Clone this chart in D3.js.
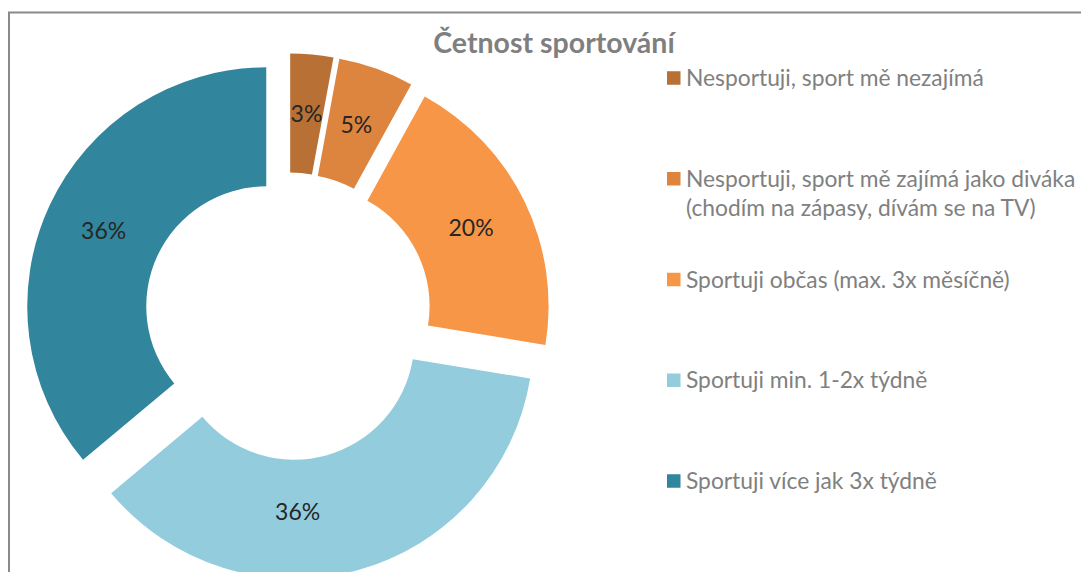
<!DOCTYPE html>
<html>
<head>
<meta charset="utf-8">
<script src="https://cdn.jsdelivr.net/npm/d3@7"></script>
<style>
  html, body { margin: 0; padding: 0; background: #ffffff; }
  svg { display: block; }
</style>
</head>
<body>
<svg id="chart" width="1081" height="572"></svg>
<script>
// ---------------- data ----------------
const title = "Četnost sportování";
const categories = [
  "Nesportuji, sport mě nezajímá",
  "Nesportuji, sport mě zajímá jako diváka (chodím na zápasy, dívám se na TV)",
  "Sportuji občas (max. 3x měsíčně)",
  "Sportuji min. 1-2x týdně",
  "Sportuji více jak 3x týdně"
];
const legendLines = [
  ["Nesportuji, sport mě nezajímá"],
  ["Nesportuji, sport mě zajímá jako diváka", "(chodím na zápasy, dívám se na TV)"],
  ["Sportuji občas (max. 3x měsíčně)"],
  ["Sportuji min. 1-2x týdně"],
  ["Sportuji více jak 3x týdně"]
];
const values = [2.9, 5.1, 19.6, 36.3, 36.1];
const colors = ["#B97034", "#DD843E", "#F79646", "#93CDDD", "#31859C"];

// ---------------- layout ----------------
const W = 1081, H = 572;
const cx = 288, cy = 316.5;
const outerR = 239, innerR = 120;
const explode = 24;
const labelAngleNudge = [0, 0, 0, 14.2, 0];   // degrees, label placement tweak
const labelRadiusNudge = [0, 0, 0, -7, 0];    // px, label placement tweak
const fontFamily = "Lato, 'Open Sans', 'DejaVu Sans', sans-serif";

const svg = d3.select("#chart");

// frame (chart border, partially outside the view)
svg.append("rect")
  .attr("x", 9).attr("y", 12.5)
  .attr("width", W + 50).attr("height", H + 50)
  .attr("fill", "none")
  .attr("stroke", "#8a8a8a")
  .attr("stroke-width", 2);

const total = d3.sum(values);
const pie = d3.pie().sort(null).value(d => d);
const arcs = pie(values);
const arc = d3.arc().innerRadius(innerR).outerRadius(outerR);
const fmt = v => Math.round(v / total * 100) + "%";

const slices = svg.append("g").attr("class", "slices")
  .selectAll("g")
  .data(arcs)
  .join("g")
  .attr("transform", d => {
    const mid = (d.startAngle + d.endAngle) / 2;
    return `translate(${cx + explode * Math.sin(mid)},${cy - explode * Math.cos(mid)})`;
  });

slices.append("clipPath")
  .attr("id", (d, i) => "clip" + i)
  .append("path")
  .attr("d", arc);

slices.append("path")
  .attr("d", arc)
  .attr("fill", (d, i) => colors[i]);

const labelPos = (d, i) => {
  const mid = (d.startAngle + d.endAngle) / 2 + labelAngleNudge[i] * Math.PI / 180;
  const rr = (innerR + outerR) / 2 + labelRadiusNudge[i];
  return [rr * Math.sin(mid), -rr * Math.cos(mid)];
};

slices.append("g")
  .attr("clip-path", (d, i) => `url(#clip${i})`)
  .append("text")
  .attr("x", (d, i) => labelPos(d, i)[0])
  .attr("y", (d, i) => labelPos(d, i)[1])
  .attr("text-anchor", "middle")
  .attr("dy", "0.36em")
  .attr("font-family", fontFamily)
  .attr("font-size", 23)
  .attr("fill", "#262626")
  .text(d => fmt(d.value));

// title
svg.append("text")
  .attr("x", 554).attr("y", 53)
  .attr("text-anchor", "middle")
  .attr("font-family", fontFamily)
  .attr("font-weight", "bold")
  .attr("font-size", 28.5)
  .attr("fill", "#7f7f7f")
  .text(title);

// legend
const ly = d3.scalePoint().domain(categories).range([78, 481]);
const legend = svg.append("g").attr("class", "legend")
  .selectAll("g")
  .data(categories)
  .join("g")
  .attr("transform", d => `translate(0,${ly(d)})`);

legend.append("rect")
  .attr("x", 667).attr("y", -6.75)
  .attr("width", 13.5).attr("height", 13.5)
  .attr("fill", (d, i) => colors[i]);

legend.append("text")
  .attr("font-family", fontFamily)
  .attr("font-size", 22.8)
  .attr("fill", "#808080")
  .selectAll("tspan")
  .data((d, i) => legendLines[i])
  .join("tspan")
  .attr("x", 686)
  .attr("y", (d, j) => j * 29)
  .attr("dy", "0.36em")
  .text(d => d);
</script>
</body>
</html>
